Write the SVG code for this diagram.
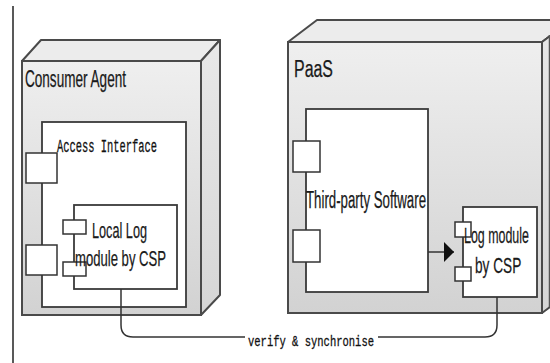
<svg xmlns="http://www.w3.org/2000/svg" width="550" height="363" viewBox="0 0 550 363">
<defs>
<linearGradient id="front" x1="0" y1="0" x2="0" y2="1">
<stop offset="0" stop-color="#efefef"/>
<stop offset="1" stop-color="#d2d2d2"/>
</linearGradient>
<linearGradient id="side" x1="0" y1="0" x2="0" y2="1">
<stop offset="0" stop-color="#e8e8e8"/>
<stop offset="1" stop-color="#d6d6d6"/>
</linearGradient>
<marker id="arrow" viewBox="0 0 10 20" refX="10" refY="10" markerWidth="10" markerHeight="20" markerUnits="userSpaceOnUse" orient="auto">
<path d="M0,0 L10,10 L0,20 Z" fill="#111"/>
</marker>
</defs>
<style>
.front{fill:url(#front);stroke:#4a4a4a;stroke-width:2}
.top{fill:#ececec;stroke:#4a4a4a;stroke-width:2;stroke-linejoin:round}
.side{fill:url(#side);stroke:#4a4a4a;stroke-width:2;stroke-linejoin:round}
.box{fill:#fff;stroke:#3a3a3a;stroke-width:1.8}
.port{fill:#fff;stroke:#333;stroke-width:1.5}
.sans{font-family:"Liberation Sans",Arial,sans-serif;fill:#1a1a1a;stroke:#1a1a1a;stroke-width:0.25}
.mono{font-family:"Liberation Mono","Courier New",monospace;fill:#111;stroke:#111;stroke-width:0.3}
.conn{fill:none;stroke:#333;stroke-width:1.5}
</style>
<line x1="13" y1="6" x2="13" y2="363" stroke="#222" stroke-width="1.5"/>

<g id="consumer-agent">
<polygon class="top" points="22,61 41,40 220,40 201,61"/>
<polygon class="side" points="201,61 220,40 220,295 201,315"/>
<rect class="front" x="22" y="61" width="179" height="254"/>
<text class="sans" x="25" y="87" font-size="23" textLength="101" lengthAdjust="spacingAndGlyphs">Consumer Agent</text>
</g>

<g id="access-interface">
<rect class="box" x="42" y="122" width="144" height="185"/>
<text class="mono" x="57" y="152" font-size="19" textLength="100" lengthAdjust="spacingAndGlyphs">Access Interface</text>
<rect class="port" x="26" y="153" width="31" height="30"/>
<rect class="port" x="26" y="245" width="31" height="30"/>
</g>

<g id="local-log">
<rect class="box" x="74" y="205" width="103" height="84"/>
<rect class="port" x="63" y="220" width="23" height="14"/>
<rect class="port" x="63" y="262" width="23" height="14"/>
<text class="sans" x="92" y="238" font-size="22" textLength="55" lengthAdjust="spacingAndGlyphs">Local Log</text>
<text class="sans" x="75" y="266" font-size="22" textLength="91" lengthAdjust="spacingAndGlyphs">module by CSP</text>
</g>

<g id="paas">
<polygon class="top" points="288,42 317,20 571,20 542,42"/>
<polygon class="side" points="542,42 571,20 571,291 542,313"/>
<rect class="front" x="288" y="42" width="254" height="271"/>
<line x1="549.5" y1="35" x2="549.5" y2="307" stroke="#555" stroke-width="1.5"/>
<text class="sans" x="294" y="77" font-size="23" textLength="39" lengthAdjust="spacingAndGlyphs">PaaS</text>
</g>

<g id="third-party">
<rect class="box" x="306" y="109" width="122" height="183"/>
<rect class="port" x="293" y="141" width="27" height="31"/>
<rect class="port" x="293" y="230" width="27" height="32"/>
<text class="sans" x="306" y="208" font-size="23" textLength="120" lengthAdjust="spacingAndGlyphs">Third-party Software</text>
</g>

<g id="log-module">
<rect class="box" x="463" y="207" width="74" height="90"/>
<rect class="port" x="455" y="222" width="16" height="15"/>
<rect class="port" x="455" y="267" width="16" height="14"/>
<text class="sans" transform="translate(464,243) scale(0.565,1)" x="0" y="0" font-size="22">Log module</text>
<text class="sans" transform="translate(475,273) scale(0.62,1)" x="0" y="0" font-size="22">by CSP</text>
</g>

<g id="connectors">
<line class="conn" x1="428" y1="252" x2="454" y2="252" stroke="#111" stroke-width="2" marker-end="url(#arrow)"/>
<path class="conn" d="M121,289 V325 Q121,337 133,337 H245"/>
<path class="conn" d="M378,337 H485 Q497,337 497,325 V297"/>
<text class="mono" x="248" y="346" font-size="15" textLength="126" lengthAdjust="spacingAndGlyphs">verify &amp; synchronise</text>
</g>
</svg>
